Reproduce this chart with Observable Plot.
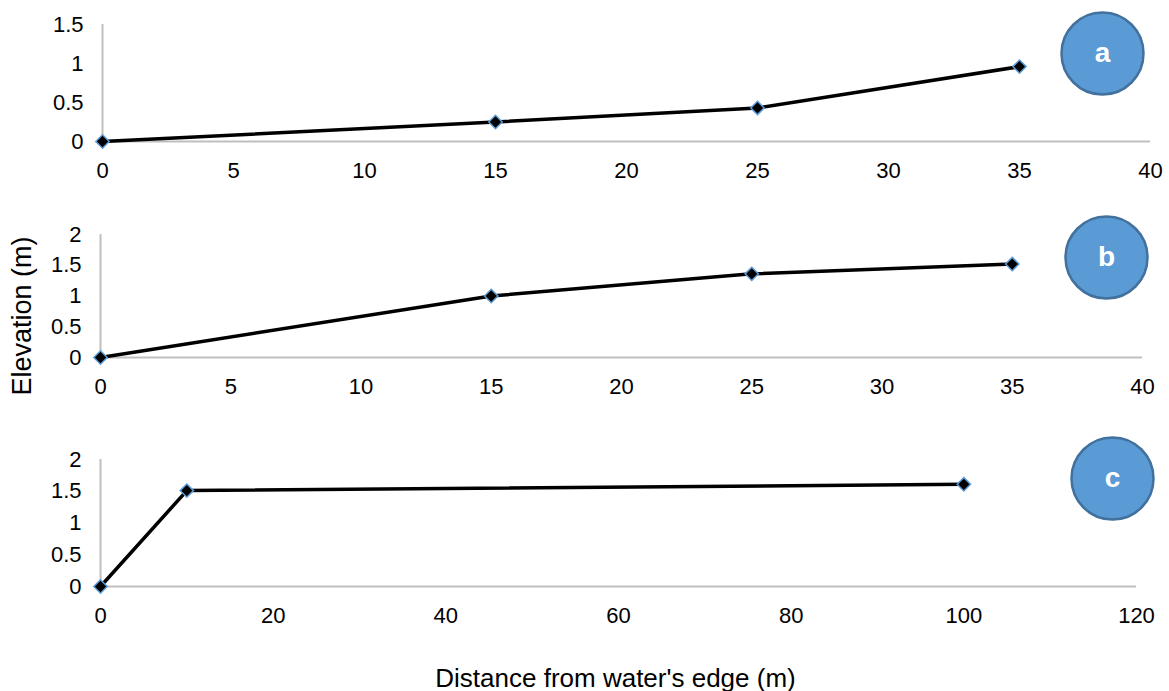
<!DOCTYPE html>
<html>
<head>
<meta charset="utf-8">
<script src="https://cdn.jsdelivr.net/npm/d3@7"></script>
<script src="https://cdn.jsdelivr.net/npm/@observablehq/plot@0.6"></script>
<style>
  html, body { margin: 0; padding: 0; background: #fff; }
  #chart { position: relative; width: 1169px; height: 691px; font-family: "Liberation Sans", Arial, sans-serif; }
  #chart svg { position: absolute; left: 0; overflow: visible; }
</style>
</head>
<body>
<div id="chart"></div>
<script>
// Panel a
const distA = [0, 15, 25, 35];
const elevA = [0, 0.25, 0.43, 0.96];
// Panel b
const distB = [0, 15, 25, 35];
const elevB = [0, 1.0, 1.36, 1.52];
// Panel c
const distC = [0, 10, 100];
const elevC = [0, 1.51, 1.61];

const xTicksAB = [0, 5, 10, 15, 20, 25, 30, 35, 40];
const xTicksC = [0, 20, 40, 60, 80, 100, 120];
const yTicksA = [0, 0.5, 1, 1.5];
const yTicksBC = [0, 0.5, 1, 1.5, 2];
const panelLabels = ["a", "b", "c"];
const yTitle = "Elevation (m)";
const xTitle = "Distance from water's edge (m)";

const FONT = "Liberation Sans, Arial, sans-serif";
const AXIS_GRAY = "#bfbfbf";
const CIRCLE_FILL = "#5b9bd5";
const CIRCLE_STROKE = "#41719c";

function panel({dist, elev, xDomain, xTicks, yDomain, yTicks, label, top, height, marginTop, marginBottom, marginLeft, marginRight, circleDx, circleDy, extra = []}) {
  const data = dist.map((d, i) => ({x: d, y: elev[i]}));
  const svg = Plot.plot({
    width: 1169,
    height,
    marginTop, marginBottom, marginLeft, marginRight,
    style: {fontFamily: FONT, fontSize: "22px", color: "#000", background: "transparent"},
    x: {domain: xDomain},
    y: {domain: yDomain},
    marks: [
      Plot.ruleY([0], {stroke: AXIS_GRAY, strokeWidth: 2}),
      Plot.ruleX([0], {stroke: AXIS_GRAY, strokeWidth: 2}),
      Plot.axisX({ticks: xTicks, tickSize: 0, tickPadding: 21, label: null, fontSize: 22, tickFormat: d => `${d}`}),
      Plot.axisY({ticks: yTicks, tickSize: 0, tickPadding: 19, label: null, fontSize: 22, tickFormat: d => `${d}`}),
      Plot.line(data, {x: "x", y: "y", stroke: "#000", strokeWidth: 3.5}),
      Plot.dot(data, {x: "x", y: "y", symbol: "diamond2", r: 6, fill: "#000", stroke: "#5b9bd5", strokeWidth: 1.5}),
      Plot.dot([label], {frameAnchor: "top-right", dx: circleDx, dy: circleDy, r: 41, fill: CIRCLE_FILL, stroke: CIRCLE_STROKE, strokeWidth: 2.5}),
      Plot.text([label], {frameAnchor: "top-right", textAnchor: "middle", lineAnchor: "middle", dx: circleDx, dy: circleDy, text: d => d, fill: "#fff", fontWeight: "bold", fontSize: 28}),
      ...extra
    ]
  });
  svg.style.top = top + "px";
  return svg;
}

const chart = document.getElementById("chart");

chart.appendChild(panel({
  dist: distA, elev: elevA, xDomain: [0, 40], xTicks: xTicksAB, yDomain: [0, 1.5], yTicks: yTicksA,
  label: panelLabels[0], top: 0, height: 190, marginTop: 24, marginBottom: 49, marginLeft: 102, marginRight: 19,
  circleDx: -48, circleDy: 29
}));

chart.appendChild(panel({
  dist: distB, elev: elevB, xDomain: [0, 40], xTicks: xTicksAB, yDomain: [0, 2], yTicks: yTicksBC,
  label: panelLabels[1], top: 200, height: 200, marginTop: 34, marginBottom: 43, marginLeft: 100, marginRight: 27,
  circleDx: -36, circleDy: 23,
  extra: [
    Plot.text([yTitle], {frameAnchor: "left", textAnchor: "middle", lineAnchor: "middle", dx: -78, dy: 20, rotate: -90, text: d => d, fontSize: 27, fill: "#000"})
  ]
}));

chart.appendChild(panel({
  dist: distC, elev: elevC, xDomain: [0, 120], xTicks: xTicksC, yDomain: [0, 2], yTicks: yTicksBC,
  label: panelLabels[2], top: 420, height: 271, marginTop: 39, marginBottom: 105, marginLeft: 100, marginRight: 33,
  circleDx: -24, circleDy: 19,
  extra: [
    Plot.text([xTitle], {frameAnchor: "bottom", textAnchor: "middle", lineAnchor: "middle", dx: -3, dy: 92, text: d => d, fontSize: 26, fill: "#000"})
  ]
}));
</script>
</body>
</html>
